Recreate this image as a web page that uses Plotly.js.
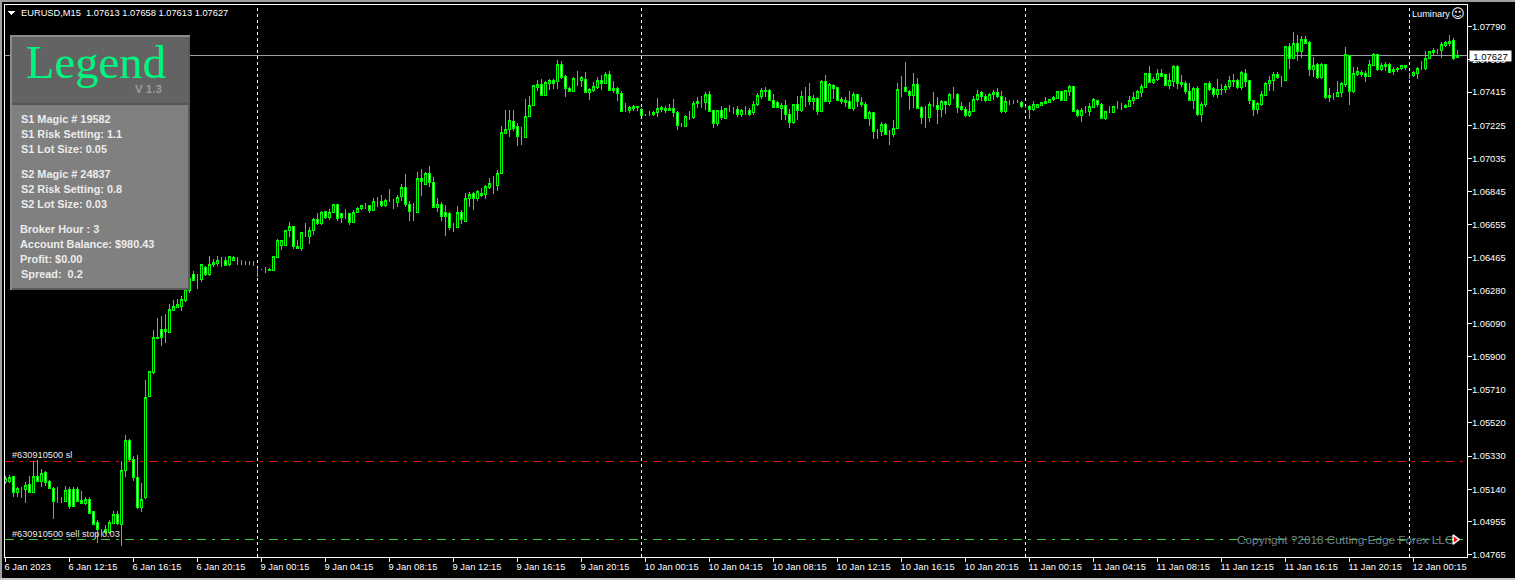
<!DOCTYPE html>
<html><head><meta charset="utf-8">
<script src="https://cdn.plot.ly/plotly-3.0.1.min.js"></script>
<style>html,body{margin:0;padding:0;background:#000;overflow:hidden}
#chart{width:1515px;height:580px}
#chart .boxlayer path,#chart .shapelayer path{shape-rendering:crispEdges}
</style></head><body><div id="chart"></div>
<script>
const openPrice=[
1.05185,1.05184,1.05212,1.05121,1.05142,1.05140,1.05166,1.05122,1.05216,1.05184,
1.05235,1.05182,1.05147,1.05071,1.05071,1.05071,1.05136,1.05138,1.05136,1.05073,
1.05059,1.05079,1.05010,1.04949,1.04899,1.04895,1.04895,1.04945,1.04994,1.04941,
1.05245,1.05422,1.05308,1.05208,1.05033,1.05090,1.05674,1.05808,1.06003,1.06053,
1.06053,1.06037,1.06163,1.06183,1.06186,1.06221,1.06278,1.06373,1.06348,1.06344,
1.06411,1.06369,1.06426,1.06434,1.06453,1.06449,1.06426,1.06453,1.06459,1.06440,
1.06438,1.06438,1.06434,1.06400,1.06400,1.06400,1.06392,1.06396,1.06468,1.06537,
1.06537,1.06621,1.06648,1.06522,1.06518,1.06610,1.06589,1.06621,1.06688,1.06661,
1.06734,1.06698,1.06724,1.06770,1.06717,1.06719,1.06719,1.06667,1.06726,1.06747,
1.06763,1.06763,1.06738,1.06789,1.06791,1.06765,1.06793,1.06791,1.06784,1.06816,
1.06871,1.06774,1.06732,1.06726,1.06923,1.06885,1.06946,1.06900,1.06755,1.06774,
1.06723,1.06717,1.06644,1.06640,1.06728,1.06675,1.06807,1.06835,1.06808,1.06837,
1.06831,1.06870,1.06885,1.06881,1.06950,1.07177,1.07199,1.07249,1.07217,1.07161,
1.07155,1.07276,1.07339,1.07442,1.07461,1.07396,1.07463,1.07480,1.07474,1.07576,
1.07503,1.07438,1.07419,1.07495,1.07482,1.07490,1.07413,1.07425,1.07442,1.07484,
1.07465,1.07514,1.07438,1.07438,1.07409,1.07308,1.07308,1.07320,1.07335,1.07318,
1.07285,1.07287,1.07287,1.07297,1.07316,1.07320,1.07308,1.07323,1.07301,1.07222,
1.07218,1.07274,1.07270,1.07350,1.07362,1.07356,1.07400,1.07308,1.07236,1.07308,
1.07264,1.07322,1.07320,1.07318,1.07285,1.07301,1.07312,1.07297,1.07343,1.07388,
1.07419,1.07423,1.07369,1.07358,1.07322,1.07337,1.07289,1.07239,1.07346,1.07308,
1.07387,1.07388,1.07360,1.07381,1.07302,1.07474,1.07362,1.07455,1.07440,1.07360,
1.07356,1.07360,1.07322,1.07400,1.07356,1.07346,1.07262,1.07297,1.07190,1.07188,
1.07228,1.07175,1.07171,1.07209,1.07442,1.07442,1.07421,1.07394,1.07461,1.07327,
1.07274,1.07270,1.07346,1.07341,1.07314,1.07362,1.07343,1.07400,1.07400,1.07331,
1.07318,1.07280,1.07304,1.07373,1.07411,1.07392,1.07366,1.07402,1.07415,1.07392,
1.07302,1.07358,1.07360,1.07360,1.07358,1.07331,1.07331,1.07314,1.07325,1.07337,
1.07350,1.07356,1.07371,1.07377,1.07417,1.07369,1.07419,1.07446,1.07312,1.07281,
1.07308,1.07302,1.07327,1.07369,1.07346,1.07262,1.07302,1.07301,1.07333,1.07335,
1.07327,1.07331,1.07367,1.07381,1.07413,1.07442,1.07520,1.07469,1.07486,1.07524,
1.07514,1.07451,1.07476,1.07564,1.07457,1.07467,1.07421,1.07369,1.07438,1.07289,
1.07343,1.07463,1.07438,1.07404,1.07430,1.07430,1.07450,1.07476,1.07484,1.07442,
1.07524,1.07480,1.07366,1.07316,1.07343,1.07395,1.07465,1.07484,1.07515,1.07488,
1.07484,1.07675,1.07610,1.07691,1.07649,1.07714,1.07698,1.07546,1.07576,1.07496,
1.07572,1.07385,1.07398,1.07391,1.07414,1.07458,1.07624,1.07416,1.07515,1.07530,
1.07523,1.07507,1.07568,1.07630,1.07547,1.07561,1.07576,1.07532,1.07542,1.07549,
1.07557,1.07511,1.07511,1.07519,1.07553,1.07549,1.07610,1.07641,1.07652,1.07652,
1.07683,1.07691,1.07710,1.07613];
const closePrice=[
1.05203,1.05206,1.05122,1.05142,1.05142,1.05164,1.05122,1.05216,1.05185,1.05233,
1.05180,1.05147,1.05071,1.05071,1.05071,1.05132,1.05044,1.05044,1.05071,1.05061,
1.05079,1.05002,1.04941,1.04907,1.04899,1.04907,1.04949,1.04998,1.04945,1.05245,
1.05422,1.05308,1.05208,1.05033,1.05084,1.05667,1.05812,1.06007,1.06011,1.06011,
1.06041,1.06167,1.06186,1.06198,1.06225,1.06282,1.06346,1.06335,1.06348,1.06426,
1.06373,1.06430,1.06438,1.06449,1.06453,1.06421,1.06472,1.06468,1.06459,1.06440,
1.06438,1.06438,1.06434,1.06400,1.06400,1.06400,1.06401,1.06472,1.06564,1.06564,
1.06625,1.06644,1.06530,1.06533,1.06610,1.06610,1.06625,1.06688,1.06663,1.06728,
1.06696,1.06728,1.06770,1.06692,1.06698,1.06719,1.06669,1.06728,1.06751,1.06763,
1.06763,1.06736,1.06791,1.06789,1.06766,1.06797,1.06793,1.06791,1.06814,1.06871,
1.06774,1.06732,1.06732,1.06923,1.06904,1.06946,1.06898,1.06755,1.06774,1.06703,
1.06703,1.06640,1.06644,1.06728,1.06686,1.06808,1.06831,1.06808,1.06843,1.06824,
1.06877,1.06889,1.06885,1.06950,1.07181,1.07198,1.07251,1.07209,1.07159,1.07161,
1.07278,1.07341,1.07451,1.07457,1.07396,1.07471,1.07480,1.07463,1.07576,1.07499,
1.07436,1.07419,1.07495,1.07495,1.07497,1.07413,1.07429,1.07450,1.07484,1.07465,
1.07514,1.07423,1.07423,1.07409,1.07304,1.07308,1.07325,1.07331,1.07327,1.07283,
1.07285,1.07287,1.07301,1.07323,1.07325,1.07310,1.07323,1.07299,1.07224,1.07222,
1.07274,1.07274,1.07352,1.07360,1.07362,1.07400,1.07304,1.07236,1.07308,1.07272,
1.07323,1.07322,1.07320,1.07287,1.07308,1.07301,1.07285,1.07346,1.07394,1.07423,
1.07427,1.07366,1.07327,1.07327,1.07337,1.07285,1.07241,1.07343,1.07308,1.07388,
1.07387,1.07360,1.07381,1.07302,1.07474,1.07360,1.07457,1.07434,1.07366,1.07371,
1.07366,1.07322,1.07404,1.07360,1.07343,1.07262,1.07297,1.07190,1.07190,1.07228,
1.07171,1.07175,1.07209,1.07432,1.07442,1.07419,1.07396,1.07457,1.07320,1.07270,
1.07274,1.07346,1.07346,1.07314,1.07362,1.07343,1.07400,1.07400,1.07327,1.07314,
1.07283,1.07306,1.07375,1.07404,1.07388,1.07366,1.07404,1.07415,1.07388,1.07302,
1.07360,1.07358,1.07360,1.07360,1.07331,1.07331,1.07316,1.07343,1.07343,1.07354,
1.07362,1.07375,1.07383,1.07417,1.07369,1.07423,1.07446,1.07304,1.07281,1.07312,
1.07308,1.07331,1.07371,1.07345,1.07264,1.07302,1.07302,1.07331,1.07333,1.07335,
1.07337,1.07369,1.07383,1.07417,1.07446,1.07520,1.07472,1.07490,1.07524,1.07507,
1.07453,1.07484,1.07564,1.07465,1.07469,1.07419,1.07369,1.07438,1.07289,1.07346,
1.07463,1.07432,1.07404,1.07432,1.07432,1.07450,1.07484,1.07484,1.07442,1.07526,
1.07474,1.07366,1.07316,1.07347,1.07404,1.07467,1.07484,1.07515,1.07496,1.07488,
1.07675,1.07610,1.07691,1.07649,1.07714,1.07695,1.07546,1.07570,1.07496,1.07576,
1.07385,1.07395,1.07398,1.07414,1.07465,1.07628,1.07419,1.07519,1.07532,1.07515,
1.07507,1.07572,1.07630,1.07547,1.07570,1.07576,1.07528,1.07547,1.07551,1.07565,
1.07568,1.07511,1.07526,1.07553,1.07553,1.07610,1.07645,1.07656,1.07652,1.07687,
1.07698,1.07706,1.07610,1.07627];
const highPrice=[
1.05216,1.05224,1.05218,1.05151,1.05151,1.05182,1.05218,1.05300,1.05308,1.05256,
1.05247,1.05193,1.05151,1.05155,1.05094,1.05161,1.05155,1.05151,1.05155,1.05132,
1.05094,1.05094,1.05017,1.04964,1.04910,1.04937,1.04964,1.05014,1.05014,1.05304,
1.05453,1.05428,1.05333,1.05338,1.05178,1.05766,1.05812,1.06053,1.06121,1.06135,
1.06144,1.06202,1.06225,1.06230,1.06249,1.06297,1.06381,1.06388,1.06373,1.06430,
1.06420,1.06478,1.06459,1.06478,1.06472,1.06468,1.06478,1.06478,1.06468,1.06453,
1.06449,1.06449,1.06445,1.06405,1.06403,1.06411,1.06407,1.06476,1.06571,1.06570,
1.06625,1.06673,1.06648,1.06568,1.06610,1.06663,1.06640,1.06694,1.06724,1.06732,
1.06736,1.06746,1.06774,1.06774,1.06724,1.06747,1.06724,1.06740,1.06759,1.06770,
1.06780,1.06770,1.06810,1.06816,1.06828,1.06801,1.06862,1.06805,1.06828,1.06889,
1.06946,1.06793,1.06780,1.06959,1.06975,1.06956,1.06994,1.06931,1.06808,1.06787,
1.06770,1.06728,1.06667,1.06765,1.06740,1.06837,1.06845,1.06841,1.06856,1.06866,
1.06883,1.06925,1.06936,1.06969,1.07223,1.07313,1.07314,1.07312,1.07236,1.07217,
1.07377,1.07394,1.07455,1.07486,1.07490,1.07480,1.07490,1.07490,1.07600,1.07595,
1.07514,1.07442,1.07503,1.07537,1.07509,1.07532,1.07436,1.07471,1.07499,1.07514,
1.07528,1.07537,1.07480,1.07446,1.07419,1.07350,1.07337,1.07343,1.07337,1.07323,
1.07289,1.07308,1.07308,1.07383,1.07337,1.07337,1.07346,1.07377,1.07308,1.07239,
1.07285,1.07308,1.07362,1.07388,1.07394,1.07415,1.07423,1.07312,1.07314,1.07337,
1.07323,1.07343,1.07331,1.07335,1.07316,1.07335,1.07323,1.07366,1.07409,1.07436,
1.07442,1.07430,1.07404,1.07366,1.07350,1.07369,1.07318,1.07346,1.07394,1.07419,
1.07442,1.07469,1.07400,1.07385,1.07484,1.07514,1.07465,1.07461,1.07446,1.07388,
1.07385,1.07423,1.07415,1.07404,1.07388,1.07356,1.07308,1.07302,1.07203,1.07241,
1.07236,1.07197,1.07255,1.07467,1.07509,1.07589,1.07427,1.07526,1.07495,1.07337,
1.07337,1.07360,1.07417,1.07385,1.07371,1.07366,1.07411,1.07442,1.07408,1.07356,
1.07327,1.07360,1.07394,1.07427,1.07419,1.07404,1.07408,1.07427,1.07438,1.07423,
1.07385,1.07371,1.07371,1.07369,1.07362,1.07337,1.07343,1.07362,1.07346,1.07356,
1.07385,1.07377,1.07390,1.07423,1.07423,1.07427,1.07455,1.07450,1.07318,1.07323,
1.07335,1.07350,1.07379,1.07369,1.07354,1.07308,1.07335,1.07337,1.07366,1.07350,
1.07346,1.07394,1.07413,1.07427,1.07461,1.07526,1.07566,1.07499,1.07547,1.07547,
1.07518,1.07522,1.07570,1.07570,1.07514,1.07476,1.07469,1.07446,1.07451,1.07356,
1.07467,1.07476,1.07442,1.07492,1.07461,1.07461,1.07507,1.07518,1.07490,1.07534,
1.07547,1.07484,1.07370,1.07356,1.07423,1.07471,1.07509,1.07528,1.07528,1.07509,
1.07681,1.07695,1.07759,1.07742,1.07738,1.07738,1.07706,1.07618,1.07584,1.07584,
1.07576,1.07439,1.07408,1.07481,1.07471,1.07675,1.07628,1.07557,1.07557,1.07542,
1.07538,1.07599,1.07637,1.07633,1.07584,1.07586,1.07584,1.07557,1.07561,1.07572,
1.07572,1.07526,1.07534,1.07557,1.07595,1.07652,1.07649,1.07668,1.07660,1.07702,
1.07706,1.07744,1.07725,1.07658];
const lowPrice=[
1.05170,1.05178,1.05098,1.05098,1.05090,1.05063,1.05120,1.05120,1.05182,1.05151,
1.05161,1.05143,1.04968,1.05059,1.05059,1.05067,1.05027,1.05037,1.05067,1.05056,
1.05048,1.04998,1.04933,1.04830,1.04865,1.04884,1.04884,1.04941,1.04937,1.04817,
1.05208,1.05304,1.05185,1.05027,1.05008,1.05084,1.05671,1.05800,1.06001,1.05963,
1.05976,1.06034,1.06160,1.06179,1.06160,1.06211,1.06266,1.06331,1.06287,1.06325,
1.06363,1.06363,1.06411,1.06419,1.06411,1.06419,1.06421,1.06449,1.06426,1.06426,
1.06426,1.06426,1.06419,1.06354,1.06396,1.06377,1.06388,1.06392,1.06464,1.06510,
1.06532,1.06583,1.06518,1.06516,1.06507,1.06583,1.06545,1.06598,1.06656,1.06656,
1.06688,1.06684,1.06721,1.06679,1.06667,1.06690,1.06656,1.06663,1.06721,1.06740,
1.06745,1.06724,1.06732,1.06755,1.06759,1.06759,1.06786,1.06747,1.06759,1.06793,
1.06755,1.06675,1.06679,1.06721,1.06822,1.06885,1.06873,1.06749,1.06726,1.06679,
1.06593,1.06627,1.06612,1.06637,1.06660,1.06675,1.06755,1.06742,1.06793,1.06816,
1.06805,1.06858,1.06831,1.06847,1.06944,1.07173,1.07159,1.07194,1.07108,1.07113,
1.07152,1.07274,1.07335,1.07423,1.07392,1.07392,1.07427,1.07432,1.07434,1.07493,
1.07388,1.07413,1.07413,1.07451,1.07442,1.07409,1.07371,1.07413,1.07432,1.07427,
1.07461,1.07419,1.07408,1.07362,1.07301,1.07301,1.07297,1.07308,1.07308,1.07281,
1.07281,1.07281,1.07276,1.07274,1.07299,1.07297,1.07304,1.07274,1.07199,1.07217,
1.07217,1.07255,1.07262,1.07323,1.07323,1.07312,1.07301,1.07207,1.07222,1.07255,
1.07259,1.07302,1.07289,1.07274,1.07274,1.07285,1.07281,1.07285,1.07337,1.07377,
1.07385,1.07362,1.07346,1.07323,1.07257,1.07257,1.07209,1.07232,1.07257,1.07302,
1.07327,1.07343,1.07312,1.07285,1.07299,1.07356,1.07346,1.07375,1.07362,1.07346,
1.07331,1.07316,1.07308,1.07327,1.07327,1.07259,1.07222,1.07148,1.07148,1.07165,
1.07167,1.07113,1.07159,1.07203,1.07385,1.07415,1.07314,1.07323,1.07320,1.07232,
1.07211,1.07245,1.07331,1.07234,1.07274,1.07289,1.07337,1.07375,1.07297,1.07304,
1.07270,1.07270,1.07301,1.07366,1.07366,1.07356,1.07362,1.07369,1.07381,1.07297,
1.07297,1.07343,1.07346,1.07350,1.07323,1.07323,1.07260,1.07308,1.07323,1.07333,
1.07346,1.07356,1.07366,1.07373,1.07369,1.07366,1.07394,1.07301,1.07274,1.07245,
1.07293,1.07278,1.07323,1.07327,1.07260,1.07255,1.07297,1.07301,1.07318,1.07312,
1.07323,1.07327,1.07346,1.07375,1.07385,1.07438,1.07467,1.07463,1.07476,1.07499,
1.07450,1.07434,1.07442,1.07432,1.07442,1.07404,1.07362,1.07320,1.07278,1.07245,
1.07327,1.07419,1.07388,1.07381,1.07400,1.07408,1.07432,1.07442,1.07430,1.07427,
1.07442,1.07346,1.07278,1.07290,1.07335,1.07391,1.07423,1.07419,1.07490,1.07446,
1.07481,1.07547,1.07610,1.07595,1.07610,1.07691,1.07509,1.07500,1.07488,1.07488,
1.07376,1.07356,1.07370,1.07385,1.07385,1.07446,1.07343,1.07412,1.07509,1.07504,
1.07471,1.07500,1.07565,1.07538,1.07538,1.07538,1.07523,1.07515,1.07528,1.07544,
1.07544,1.07488,1.07500,1.07492,1.07542,1.07542,1.07605,1.07630,1.07633,1.07610,
1.07675,1.07681,1.07599,1.07613];
const barIndex=openPrice.map((_,i)=>i);
const xTickIndex=[0,16,32,48,64,80,96,112,128,144,160,176,192,208,224,240,256,272,288,304,320,336,352];
const xTickText=["6 Jan 2023","6 Jan 12:15","6 Jan 16:15","6 Jan 20:15","9 Jan 00:15","9 Jan 04:15","9 Jan 08:15","9 Jan 12:15","9 Jan 16:15","9 Jan 20:15","10 Jan 00:15","10 Jan 04:15","10 Jan 08:15","10 Jan 12:15","10 Jan 16:15","10 Jan 20:15","11 Jan 00:15","11 Jan 04:15","11 Jan 08:15","11 Jan 12:15","11 Jan 16:15","11 Jan 20:15","12 Jan 00:15"];
const yTickText=["1.07790","1.07603","1.07415","1.07225","1.07035","1.06845","1.06655","1.06465","1.06280","1.06090","1.05900","1.05710","1.05520","1.05330","1.05140","1.04955","1.04765"];
const yTickVals=yTickText.map(Number);
const daySeparators=[63,159,255,351];
const bidPrice=1.07627, slPrice=1.05299, sellStopPrice=1.04852;
const panelLines=[["S1 Magic # 19582",20,119],["S1 Risk Setting: 1.1",20,134],["S1 Lot Size: 0.05",20,149],["S2 Magic # 24837",20,174],["S2 Risk Setting: 0.8",20,189],["S2 Lot Size: 0.03",20,204],["Broker Hour : 3",19,229],["Account Balance: $980.43",19,244],["Profit: $0.00",19,259],["Spread:  0.2",20,274]];

const L=5,T=5,W=1462,H=552;
const px=x=>(x-L)/W, py=y=>1-(y-T)/H;
function rect(x0,y0,x1,y1,c){return {type:'rect',xref:'paper',yref:'paper',x0:px(x0),x1:px(x1),y0:py(y0),y1:py(y1),fillcolor:c,line:{width:0},layer:'above'};}
function label(text,x,y,font,extra){return Object.assign({xref:'paper',yref:'paper',x:px(x),y:py(y),text,showarrow:false,xanchor:'left',yanchor:'middle',borderpad:0,font},extra||{});}
const sans='"Liberation Sans",Arial,sans-serif';
const shapes=[
 ...daySeparators.map(d=>({type:'line',xref:'x',yref:'paper',x0:d,x1:d,y0:0,y1:1,line:{color:'#ffffff',width:1,dash:'3px,3px'},layer:'below'})),
 {type:'line',xref:'paper',yref:'y',x0:0,x1:1,y0:bidPrice,y1:bidPrice,line:{color:'#9a9ea2',width:1},layer:'below'},
 {type:'line',xref:'paper',yref:'y',x0:0,x1:1,y0:slPrice,y1:slPrice,line:{color:'#e81010',width:1,dash:'9px,6px,3px,6px'},layer:'below'},
 {type:'line',xref:'paper',yref:'y',x0:0,x1:1,y0:sellStopPrice,y1:sellStopPrice,line:{color:'#32cd32',width:1,dash:'9px,6px,3px,6px'},layer:'below'},
 rect(10,35,190,290,'#8a8a8a'),
 rect(12,37,190,290,'#5a5a5a'),
 rect(12,37,188,103,'#636363'),
 rect(12,103,188,105,'#555555'),
 rect(12,105,188,288,'#808080'),
 rect(0,0,1515,2,'#a0a0a0'),
 rect(0,0,2,580,'#a0a0a0'),
 rect(0,578,1515,580,'#c8c8c8'),
 {type:'path',xref:'paper',yref:'paper',path:`M${px(8)},${py(11)} L${px(15)},${py(11)} L${px(11.5)},${py(15)} Z`,fillcolor:'#fff',line:{width:0},layer:'above'}
];
const annotations=[
 label('EURUSD,M15  1.07613 1.07658 1.07613 1.07627',19.5,12.5,{family:sans,size:9.3,color:'#fff'}),
 label('Luminary',1410.5,14,{family:sans,size:9.2,color:'#fff'}),
 label('☺',1449.5,14,{family:'"DejaVu Sans"',size:13,color:'#fff'}),
 label('#630910500 sl',11,455,{family:sans,size:9.2,color:'#e8e8e8'}),
 label('#630910500 sell stop 0.03',11,533.5,{family:sans,size:9.2,color:'#e8e8e8'}),
 label('Copyright ?2018 Cutting Edge Forex LLC',1236,540,{family:sans,size:11.8,color:'#6f8090'}),
 label('1.07627',1469,55.5,{family:sans,size:9.5,color:'#000'},{bgcolor:'#fff',width:41,height:10,align:'center'}),
 label('Legend',24.5,62,{family:'"Liberation Serif",serif',size:46.7,color:'#00f57f'}),
 label('<b>V 1.3</b>',134,89,{family:sans,size:11.5,color:'#9c9c9c'}),
 ...panelLines.map(l=>label('<b>'+l[0]+'</b>',l[1],l[2],{family:sans,size:10.9,color:'#ececec'}))
];
const traces=[{
 type:'candlestick',x:barIndex,open:openPrice,high:highPrice,low:lowPrice,close:closePrice,
 increasing:{line:{color:'#00ff00',width:1},fillcolor:'#000000'},
 decreasing:{line:{color:'#00ff00',width:1},fillcolor:'#ffffff'},
 whiskerwidth:0,hoverinfo:'skip',showlegend:false
},{
 type:'scatter',mode:'markers',x:[362.4],y:[sellStopPrice],hoverinfo:'skip',showlegend:false,
 marker:{symbol:'triangle-right',size:8,color:'#ff0000',line:{color:'#ffffff',width:1.5}}
}];
const axisFont={family:sans,size:9.4,color:'#ffffff'};
const layout={
 width:1515,height:580,margin:{l:L,r:1515-L-W,t:T,b:580-T-H,pad:0},
 paper_bgcolor:'#000',plot_bgcolor:'#000',showlegend:false,boxgap:0.5,dragmode:false,
 xaxis:{type:'linear',range:[-0.125,365.375],rangeslider:{visible:false},showgrid:false,zeroline:false,
  showline:true,mirror:true,linecolor:'#fff',linewidth:1,ticks:'outside',ticklen:4,tickcolor:'#fff',tickwidth:1,
  tickmode:'array',tickvals:xTickIndex,ticktext:xTickText,ticklabelposition:'outside right',ticklabelshift:-2,ticklabelstandoff:1,tickangle:0,tickfont:axisFont,automargin:false},
 yaxis:{type:'linear',side:'right',range:[1.04752,1.07914],showgrid:false,zeroline:false,
  showline:true,mirror:true,linecolor:'#fff',linewidth:1,ticks:'outside',ticklen:4,tickcolor:'#fff',tickwidth:1,
  tickmode:'array',tickvals:yTickVals,ticktext:yTickText,ticklabelstandoff:-2,tickfont:axisFont,automargin:false},
 shapes,annotations
};
Plotly.newPlot('chart',traces,layout,{displayModeBar:false,staticPlot:true});
</script></body></html>
